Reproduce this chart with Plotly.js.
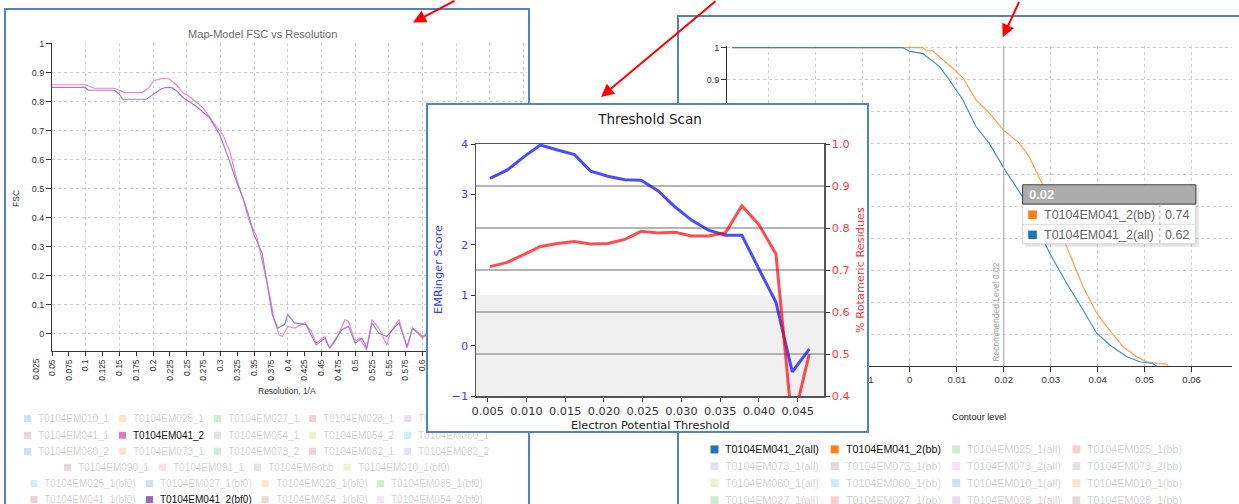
<!DOCTYPE html>
<html><head><meta charset="utf-8">
<script src="https://cdn.plot.ly/plotly-3.0.1.min.js"></script>
<style>
html,body{margin:0;padding:0;background:#fff;}
#stage{position:relative;width:1239px;height:504px;overflow:hidden;background:#fff;}
.box{position:absolute;background:#fff;border:2px solid #5283c2;box-sizing:border-box;}
.plot{position:absolute;left:0;top:0;width:1239px;height:504px;}
</style></head>
<body><div id="stage">
<div class="box" style="left:4px;top:8px;width:525.5px;height:520px;z-index:1"></div>
<div class="box" style="left:676.5px;top:15px;width:600px;height:520px;z-index:1"></div>
<div id="fsc" class="plot" style="z-index:2"></div>
<div id="cov" class="plot" style="z-index:2"></div>
<div class="box" style="left:426px;top:103px;width:443px;height:330px;z-index:3"></div>
<div id="scan" class="plot" style="z-index:4"></div>
</div>
<script>
// ===================== DATA =====================
const PAL = ['#1f77b4','#ff7f0e','#2ca02c','#d62728','#9467bd','#8c564b','#e377c2','#7f7f7f','#bcbd22','#17becf'];

// --- Map-Model FSC vs Resolution ---
const fscTitle = 'Map-Model FSC vs Resolution';
const fscXTicks = [0.025,0.05,0.075,0.1,0.125,0.15,0.175,0.2,0.225,0.25,0.275,0.3,0.325,0.35,0.375,0.4,0.425,0.45,0.475,0.5,0.525,0.55,0.575,0.6,0.625,0.65,0.675,0.7,0.725,0.75];
const fscYTicks = [0,0.1,0.2,0.3,0.4,0.5,0.6,0.7,0.8,0.9,1];
const fscAName = 'T0104EM041_2';
const fscAX = [0.05,0.099,0.113,0.143,0.158,0.184,0.194,0.201,0.214,0.224,0.234,0.244,0.256,0.274,0.294,0.304,0.314,0.324,0.334,0.342,0.354,0.364,0.374,0.379,0.387,0.392,0.400,0.410,0.425,0.435,0.442,0.455,0.462,0.470,0.485,0.490,0.500,0.507,0.517,0.525,0.535,0.547,0.552,0.565,0.577,0.585,0.600,0.612];
const fscAY = [0.858,0.858,0.846,0.846,0.831,0.831,0.849,0.872,0.880,0.878,0.860,0.831,0.814,0.779,0.714,0.685,0.627,0.534,0.462,0.392,0.334,0.229,0.124,0.054,-0.004,-0.010,0.025,0.019,0.037,0.008,-0.033,-0.010,-0.050,-0.028,0.048,0.042,-0.028,-0.016,-0.057,0.048,0.019,-0.039,0.002,0.048,-0.050,0.019,-0.016,0.010];
const fscBName = 'T0104EM041_2(bf0)';
const fscBX = [0.05,0.099,0.104,0.143,0.150,0.155,0.190,0.200,0.213,0.220,0.228,0.236,0.244,0.264,0.284,0.299,0.314,0.324,0.334,0.344,0.349,0.362,0.372,0.377,0.385,0.395,0.400,0.410,0.427,0.442,0.455,0.462,0.480,0.490,0.500,0.510,0.517,0.525,0.535,0.547,0.555,0.565,0.577,0.585,0.600,0.612];
const fscBY = [0.849,0.849,0.839,0.839,0.825,0.808,0.808,0.825,0.845,0.849,0.848,0.835,0.814,0.784,0.744,0.685,0.592,0.522,0.464,0.392,0.346,0.276,0.135,0.065,0.019,0.031,0.065,0.037,0.031,-0.039,-0.016,-0.050,0.013,0.025,-0.033,-0.016,-0.050,0.037,0.002,-0.010,0.013,0.037,-0.045,0.019,-0.010,0.005];
const fscLegendNames = ['T0104EM010_1','T0104EM025_1','T0104EM027_1','T0104EM028_1','T0104EM035_1',
  'T0104EM041_1','T0104EM041_2','T0104EM054_1','T0104EM054_2','T0104EM060_1',
  'T0104EM060_2','T0104EM073_1','T0104EM073_2','T0104EM082_1','T0104EM082_2',
  'T0104EM090_1','T0104EM091_1','T0104EM6nbb','T0104EM010_1(bf0)',
  'T0104EM025_1(bf0)','T0104EM027_1(bf0)','T0104EM028_1(bf0)','T0104EM035_1(bf0)',
  'T0104EM041_1(bf0)','T0104EM041_2(bf0)','T0104EM054_1(bf0)','T0104EM054_2(bf0)'];
const fscLegendRows = [5,5,5,4,4,4];

// --- Threshold Scan ---
const scanTitle = 'Threshold Scan';
const scanX = [0.0053,0.0075,0.0097,0.0118,0.0140,0.0162,0.0183,0.0205,0.0227,0.0248,0.0270,0.0292,0.0313,0.0335,0.0357,0.0378,0.0400,0.0422,0.0443,0.0465];
const scanEMRinger = [3.32,3.48,3.75,3.98,3.88,3.79,3.46,3.36,3.29,3.28,3.07,2.75,2.49,2.29,2.19,2.19,1.52,0.86,-0.52,-0.07];
const scanRotamer = [0.708,0.718,0.737,0.756,0.763,0.768,0.762,0.763,0.773,0.792,0.788,0.790,0.781,0.781,0.789,0.853,0.808,0.738,0.33,0.50];
const scanXTicks = [0.005,0.010,0.015,0.020,0.025,0.030,0.035,0.040,0.045];
const scanYTicks = [-1,0,1,2,3,4];
const scanY2Ticks = [0.4,0.5,0.6,0.7,0.8,0.9,1.0];
const scanBand = [-1,1];

// --- Contour level coverage ---
const covAllName = 'T0104EM041_2(all)';
const covAllX = [-0.0378,-0.0015,0.0000,0.0028,0.0063,0.0084,0.0113,0.0141,0.0169,0.0201,0.0240,0.0263,0.0298,0.0334,0.0369,0.0398,0.0426,0.0462,0.0490,0.0518,0.0525];
const covAllY = [1.0,1.0,0.988,0.981,0.941,0.899,0.836,0.752,0.700,0.620,0.532,0.459,0.354,0.260,0.176,0.103,0.066,0.029,0.0135,0.008,0.0];
const covBbName = 'T0104EM041_2(bb)';
const covBbX = [-0.0378,0.0028,0.0035,0.0049,0.0070,0.0091,0.0113,0.0141,0.0169,0.0200,0.0233,0.0254,0.0284,0.0306,0.0334,0.0369,0.0398,0.0419,0.0454,0.0483,0.0504,0.0526,0.0547,0.0550];
const covBbY = [1.0,1.0,0.99,0.99,0.962,0.936,0.905,0.836,0.795,0.740,0.700,0.658,0.566,0.469,0.375,0.249,0.166,0.124,0.061,0.029,0.0135,0.008,0.006,0.0];
const covXTicks = [-0.03,-0.02,-0.01,0,0.01,0.02,0.03,0.04,0.05,0.06];
const covYTicks = [0,0.1,0.2,0.3,0.4,0.5,0.6,0.7,0.8,0.9,1];
const covRecLevel = 0.02;
const covTipHeader = '0.02';
const covTipNames = ['T0104EM041_2(bb)','T0104EM041_2(all)'];
const covTipValues = ['0.74','0.62'];
const covTipColors = [PAL[1],PAL[0]];
const covLegendNames = ['T0104EM041_2(all)','T0104EM041_2(bb)','T0104EM025_1(all)','T0104EM025_1(bb)',
  'T0104EM073_1(all)','T0104EM073_1(bb)','T0104EM073_2(all)','T0104EM073_2(bb)',
  'T0104EM060_1(all)','T0104EM060_1(bb)','T0104EM010_1(all)','T0104EM010_1(bb)',
  'T0104EM027_1(all)','T0104EM027_1(bb)','T0104EM028_1(all)','T0104EM028_1(bb)'];
const covLegendRows = [4,4,4,4];

// ===================== HELPERS =====================
const W = 1239, H = 504;
function conv(m){ const pw = W-m.l-m.r, ph = H-m.t-m.b;
  return {x: p => (p-m.l)/pw, y: p => (H-m.b-p)/ph}; }
const cv = document.createElement('canvas').getContext('2d');
function tw(s, size, fam){ cv.font = size+'px '+fam; return cv.measureText(s).width; }
const SANS = '"Liberation Sans", Arial, sans-serif';
const DJ = '"DejaVu Sans", sans-serif';

function buildLegend(o){
  const shapes=[], anns=[]; let k=0;
  o.rows.forEach((n,ri)=>{
    const items = o.names.slice(k,k+n).map((nm,j)=>({nm, idx:k+j, w: tw(nm,o.size,'"Liberation Sans"')}));
    k += n;
    const total = items.reduce((s,it)=>s+o.textOff+it.w+o.gap,0)-o.gap;
    let x = o.center - total/2; const y = o.rowY[ri];
    items.forEach(it=>{
      const on = o.active.includes(it.nm);
      shapes.push({type:'rect',xref:'paper',yref:'paper',x0:o.c.x(x),x1:o.c.x(x+o.sq),y0:o.c.y(y+o.sq/2),y1:o.c.y(y-o.sq/2),
        fillcolor:PAL[it.idx%10],opacity:on?1:0.22,line:{width:0}});
      anns.push({xref:'paper',yref:'paper',x:o.c.x(x+o.textOff),y:o.c.y(y),xanchor:'left',yanchor:'middle',
        text:it.nm,showarrow:false,borderpad:0,font:{family:SANS,size:o.size,color:on?'#111':'rgba(0,0,0,0.2)'}});
      x += o.textOff+it.w+o.gap;
    });
  });
  return {shapes, anns};
}
function label(c, px, py, text, font, extra){
  return Object.assign({xref:'paper',yref:'paper',x:c.x(px),y:c.y(py),xanchor:'center',yanchor:'middle',
    text, showarrow:false, borderpad:0, font}, extra||{});
}
const cfg = {staticPlot:true, displayModeBar:false};

// ===================== FSC CHART =====================
(function(){
  const m = {l:51.7, r:W-527.2, t:43.4, b:H-351.4};
  const c = conv(m);
  const xr = [0.05,0.755];
  const inVals = fscXTicks.filter(v=>v>=xr[0]);
  const outVals = fscXTicks.filter(v=>v<xr[0]);
  const grid = {showgrid:true, gridcolor:'#cfcfcf', griddash:'3px,3px', gridwidth:1};
  const leg = buildLegend({names:fscLegendNames, rows:fscLegendRows, rowY:[419,435.7,451.7,467.7,484,500],
    center:256, size:10, sq:7, textOff:13, gap:11, active:[fscAName,fscBName], c});
  const anns = [
    label(c,15,199,'FSC',{family:SANS,size:8.5,color:'#333'},{textangle:-90}),
    label(c,287,391.5,'Resolution, 1/A',{family:SANS,size:8.5,color:'#333'})
  ];
  outVals.forEach(v=>anns.push(label(c,51.7+(v-xr[0])*674.5,357,String(v),{family:SANS,size:8.5,color:'#333'},{yanchor:'top',textangle:-90})));
  const layout = {
    width:W,height:H,margin:m,autosize:false,showlegend:false,
    paper_bgcolor:'rgba(0,0,0,0)',plot_bgcolor:'rgba(0,0,0,0)',
    title:{text:fscTitle,xref:'container',yref:'container',x:262.7/W,y:1-33.8/H,xanchor:'center',yanchor:'middle',
      font:{family:SANS,size:11,color:'#6a6a6a'}},
    xaxis:{range:xr,tickmode:'array',tickvals:inVals,ticktext:inVals.map(String),tickangle:-90,ticks:'outside',ticklen:4,
      tickcolor:'#333',showline:true,linecolor:'#333',linewidth:1,showgrid:false,zeroline:false,
      tickfont:{family:SANS,size:8.5,color:'#333'}},
    xaxis2:Object.assign({overlaying:'x',range:xr,dtick:0.05,tick0:0,showticklabels:false,ticks:'',zeroline:false,showline:false},grid),
    yaxis:Object.assign({range:[-0.06,1.002],tickmode:'array',tickvals:fscYTicks,ticktext:fscYTicks.map(String),ticks:'outside',
      ticklen:5,tickcolor:'#333',showline:true,linecolor:'#333',linewidth:1,zeroline:false,
      tickfont:{family:SANS,size:9,color:'#333'}},grid),
    shapes:leg.shapes, annotations:anns.concat(leg.anns)
  };
  const traces = [
    {x:fscAX,y:fscAY,name:fscAName,mode:'lines',line:{color:'#e58bd0',width:1.2},xaxis:'x',yaxis:'y'},
    {x:fscBX,y:fscBY,name:fscBName,mode:'lines',line:{color:'#a07ccc',width:1.2},xaxis:'x2',yaxis:'y'}
  ];
  Plotly.newPlot('fsc',traces,layout,cfg);
})();

// ===================== COVERAGE CHART =====================
(function(){
  const m = {l:727, r:W-1232.2, t:46.4, b:H-366};
  const c = conv(m);
  const grid = {showgrid:true, gridcolor:'#cfcfcf', griddash:'3px,3px', gridwidth:1};
  const leg = buildLegend({names:covLegendNames, rows:covLegendRows, rowY:[449.3,466,483,500],
    center:946, size:10.7, sq:8, textOff:14, gap:12.4, active:[covAllName,covBbName], c});
  const shapes = [
    {type:'line',xref:'x',yref:'paper',x0:covRecLevel,x1:covRecLevel,y0:0,y1:1,line:{color:'#b5b5b5',width:1.3}},
    // tooltip
    {type:'rect',xref:'paper',yref:'paper',x0:c.x(1025),x1:c.x(1199),y0:c.y(188),y1:c.y(247),fillcolor:'rgba(0,0,0,0.10)',line:{width:0}},
    {type:'rect',xref:'paper',yref:'paper',x0:c.x(1022.7),x1:c.x(1196),y0:c.y(204.3),y1:c.y(244),fillcolor:'#fff',line:{color:'#d4d4d4',width:1}},
    {type:'rect',xref:'paper',yref:'paper',x0:c.x(1022.7),x1:c.x(1196),y0:c.y(185),y1:c.y(204.3),fillcolor:'#acacac',line:{color:'#444',width:1}},
    {type:'line',xref:'paper',yref:'paper',x0:c.x(1022.7),x1:c.x(1196),y0:c.y(224.5),y1:c.y(224.5),line:{color:'#dddddd',width:1}},
    {type:'line',xref:'paper',yref:'paper',x0:c.x(1160),x1:c.x(1160),y0:c.y(204.3),y1:c.y(244),line:{color:'#aaaaaa',width:1,dash:'dot'}}
  ];
  const anns = [
    label(c,979,417,'Contour level',{family:SANS,size:9.2,color:'#222'}),
    {xref:'x',yref:'paper',x:covRecLevel,xshift:-2,y:0,yshift:3,xanchor:'right',yanchor:'bottom',text:'Recommended Level '+covTipHeader,
      textangle:-90,showarrow:false,borderpad:0,font:{family:SANS,size:8.5,color:'#a8a8a8'}},
    label(c,1028,194.7,'<b>'+covTipHeader+'</b>',{family:SANS,size:13,color:'#fff'},{xanchor:'left'})
  ];
  const rowY = [215,235];
  covTipNames.forEach((nm,i)=>{
    shapes.push({type:'rect',xref:'paper',yref:'paper',x0:c.x(1028.3),x1:c.x(1037),y0:c.y(rowY[i]+4.3),y1:c.y(rowY[i]-4.3),fillcolor:covTipColors[i],line:{width:0}});
    anns.push(label(c,1042.7,rowY[i],nm,{family:SANS,size:12.5,color:'#666'},{xanchor:'left'}));
    anns.push(label(c,1190.5,rowY[i],covTipValues[i],{family:SANS,size:12.5,color:'#666'},{xanchor:'right'}));
  });
  const layout = {
    width:W,height:H,margin:m,autosize:false,showlegend:false,
    paper_bgcolor:'rgba(0,0,0,0)',plot_bgcolor:'rgba(0,0,0,0)',
    xaxis:Object.assign({range:[-0.0389,0.0686],tickmode:'array',tickvals:covXTicks,ticktext:covXTicks.map(String),ticks:'outside',ticklen:5,
      tickcolor:'#333',showline:true,linecolor:'#333',linewidth:1,zeroline:false,
      tickfont:{family:SANS,size:9.5,color:'#333'}},grid),
    yaxis:Object.assign({range:[0,1.005],tickmode:'array',tickvals:covYTicks,ticktext:covYTicks.map(String),ticks:'outside',ticklen:5,
      tickcolor:'#333',showline:true,linecolor:'#333',linewidth:1,zeroline:false,
      tickfont:{family:SANS,size:9,color:'#333'}},grid),
    shapes:shapes.concat(leg.shapes), annotations:anns.concat(leg.anns)
  };
  const traces = [
    {x:covBbX,y:covBbY,name:covBbName,mode:'lines',line:{color:'#ff9a3c',width:1.1}},
    {x:covAllX,y:covAllY,name:covAllName,mode:'lines',line:{color:'#3a8ac8',width:1.1}}
  ];
  Plotly.newPlot('cov',traces,layout,cfg);
})();

// ===================== THRESHOLD SCAN + ARROWS =====================
(function(){
  const m = {l:476, r:W-824, t:144, b:H-396};
  const c = conv(m);
  const spine = '#555';
  const arrows = [[413,22.6,456,-3],[601,97,717,-3],[1002.7,37.3,1020,-3]];
  const anns = [
    label(c,438,270,'EMRinger Score',{family:DJ,size:11.3,color:'#3b3bff'},{textangle:-90}),
    label(c,860,270,'% Rotameric Residues',{family:DJ,size:11.3,color:'#ff3b3b'},{textangle:-90}),
    label(c,650,425,'Electron Potential Threshold',{family:DJ,size:11.3,color:'#222'})
  ];
  arrows.forEach(a=>anns.push({xref:'paper',yref:'paper',x:c.x(a[0]),y:c.y(a[1]),ax:a[2]-a[0],ay:a[3]-a[1],text:' ',
    font:{size:1},showarrow:true,arrowhead:2,arrowsize:1.3,arrowwidth:2,arrowcolor:'#ff0000',standoff:0}));
  const layout = {
    width:W,height:H,margin:m,autosize:false,showlegend:false,
    paper_bgcolor:'rgba(0,0,0,0)',plot_bgcolor:'rgba(0,0,0,0)',
    title:{text:scanTitle,xref:'container',yref:'container',x:650/W,y:1-119/H,xanchor:'center',yanchor:'middle',
      font:{family:DJ,size:13.5,color:'#222'}},
    xaxis:{range:[0.00349,0.0484],tickmode:'array',tickvals:scanXTicks,ticktext:scanXTicks.map(v=>v.toFixed(3)),ticks:'outside',ticklen:4,
      tickcolor:'#333',showline:true,linecolor:spine,linewidth:1.5,mirror:true,showgrid:false,zeroline:false,
      tickfont:{family:DJ,size:11.3,color:'#333'}},
    yaxis:{range:[-1,4],tickmode:'array',tickvals:scanYTicks,ticks:'outside',ticklen:4,tickcolor:'#333',
      showline:true,linecolor:spine,linewidth:1.5,showgrid:false,zeroline:false,
      tickfont:{family:DJ,size:11.3,color:'#3b3bff'}},
    yaxis2:{overlaying:'y',side:'right',range:[0.4,1.0],tickmode:'array',tickvals:scanY2Ticks,ticktext:scanY2Ticks.map(v=>v.toFixed(1)),
      ticks:'outside',ticklen:4,tickcolor:'#333',showline:true,linecolor:spine,linewidth:1.5,
      showgrid:true,gridcolor:'#b4b4b4',gridwidth:1.2,zeroline:false,
      tickfont:{family:DJ,size:11.3,color:'#ff3b3b'}},
    shapes:[{type:'rect',xref:'paper',yref:'y',x0:0,x1:1,y0:scanBand[0],y1:scanBand[1],fillcolor:'#f0f0f0',line:{width:0},layer:'below'}],
    annotations:anns
  };
  const traces = [
    {x:scanX,y:scanEMRinger,name:'EMRinger Score',mode:'lines',line:{color:'rgba(0,0,255,0.7)',width:3},yaxis:'y'},
    {x:scanX,y:scanRotamer,name:'% Rotameric Residues',mode:'lines',line:{color:'rgba(255,0,0,0.7)',width:3},yaxis:'y2'}
  ];
  Plotly.newPlot('scan',traces,layout,cfg);
})();
</script>
</body></html>
